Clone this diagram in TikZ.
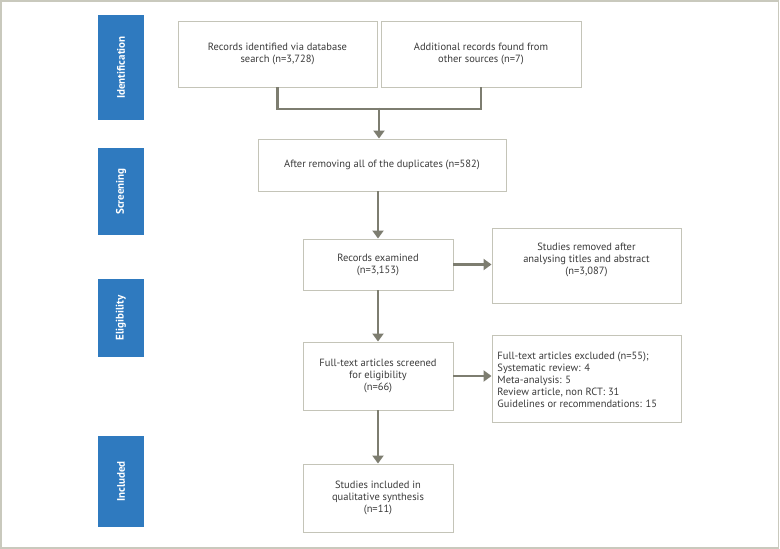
\documentclass[tikz,border=0pt]{standalone}
\usepackage{fontspec}
\setmainfont{PT Sans}
\usetikzlibrary{arrows.meta}
\definecolor{frame}{HTML}{C9C9BD}
\definecolor{boxline}{HTML}{C4C4B8}
\definecolor{arrowc}{HTML}{7D7D70}
\definecolor{phase}{HTML}{2F7ABF}
\definecolor{txt}{HTML}{3A3A3A}
\begin{document}
\begin{tikzpicture}[x=1pt,y=1pt,
  box/.style={draw=boxline, line width=0.9pt, fill=white, align=center, inner sep=2pt, text=txt, font=\fontsize{10.5}{12}\selectfont},
  phasebox/.style={fill=phase, minimum width=46pt},
  phasetext/.style={rotate=90, text=white, font=\fontsize{11}{12}\selectfont\bfseries},
  flow/.style={draw=arrowc, line width=2.6pt, -{Triangle[length=8pt,width=11pt]}},
  joinline/.style={draw=arrowc, line width=2.6pt}
]
\useasboundingbox (0,0) rectangle (780,-549);
\draw[frame, line width=1.2pt] (1,-1) rectangle (778.5,-548);

% phase labels
\node[phasebox, minimum height=105pt] (pid) at (121,-67.5) {};
\node[phasetext] (pidt) at (pid.center) {Identification};
\node[phasebox, minimum height=87pt] (psc) at (121,-191.5) {};
\node[phasetext] (psct) at (psc.center) {Screening};
\node[phasebox, minimum height=78pt] (pel) at (121,-318) {};
\node[phasetext] (pelt) at (pel.center) {Eligibility};
\node[phasebox, minimum height=91pt] (pin) at (121,-481.5) {};
\node[phasetext] (pint) at (pin.center) {Included};

% boxes
\node[box, minimum width=199pt, minimum height=66pt] (rid) at (277.5,-54) {Records identified via database\\search (n=3,728)};
\node[box, minimum width=200pt, minimum height=66pt] (add) at (481,-54) {Additional records found from\\other sources (n=7)};
\node[box, minimum width=248pt, minimum height=52pt] (dup) at (382,-165) {After removing all of the duplicates (n=582)};
\node[box, minimum width=150pt, minimum height=51pt] (exa) at (378,-264.5) {Records examined\\(n=3,153)};
\node[box, minimum width=189pt, minimum height=75pt] (rem) at (586.5,-265.5) {};
\node[box, draw=none, fill=none] (remt) at (586.5,-260) {Studies removed after\\analysing titles and abstract\\(n=3,087)};
\node[box, minimum width=150pt, minimum height=68pt] (ful) at (378,-376) {Full-text articles screened\\for eligibility\\(n=66)};
\node[box, minimum width=189pt, minimum height=87pt, align=left] (exc) at (586.5,-378.5) {};
\node[box, draw=none, fill=none, align=left, anchor=west] (exct) at (495,-379.5) {Full-text articles excluded (n=55);\\Systematic review: 4\\Meta-analysis: 5\\Review article, non RCT: 31\\Guidelines or recommendations: 15};
\node[box, minimum width=150pt, minimum height=68pt] (inc) at (378,-498) {Studies included in\\qualitative synthesis\\(n=11)};

% connectors
\coordinate (j) at (379,-109);
\draw[joinline] (rid.south) |- (j) -| (add.south);
\draw[flow] ([yshift=1.3pt]j) -- (j |- dup.north);
\draw[flow] (dup.south -| exa.north) -- (exa.north);
\draw[flow] (exa.east) -- (rem.west |- exa.east);
\draw[flow] (exa.south) -- (ful.north);
\draw[flow] (ful.east) -- (exc.west |- ful.east);
\draw[flow] (ful.south) -- (inc.north);
\end{tikzpicture}
\end{document}
